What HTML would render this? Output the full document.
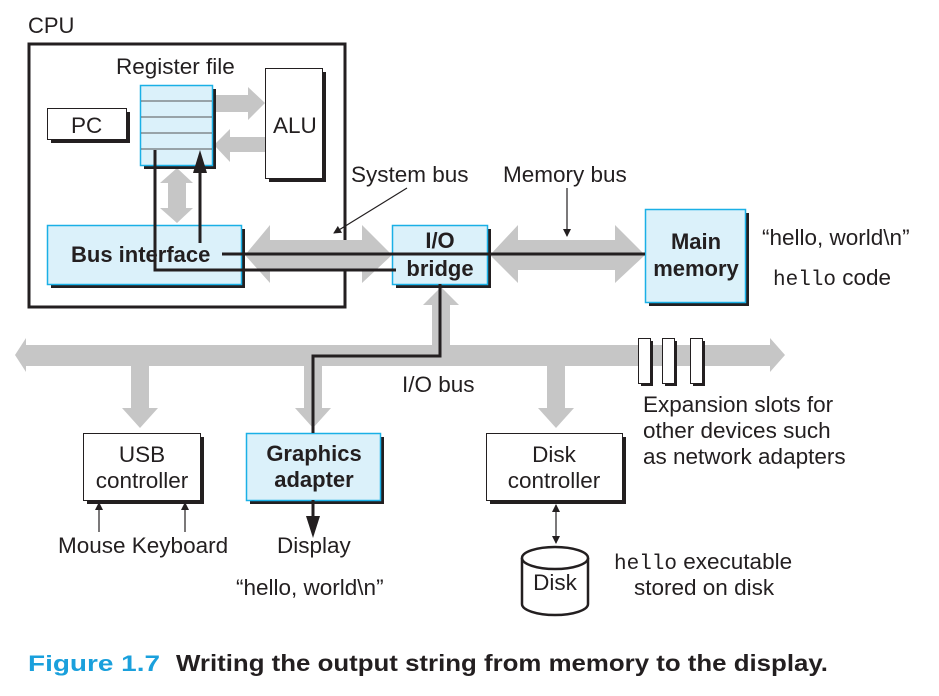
<!DOCTYPE html>
<html><head><meta charset="utf-8"><style>
html,body{margin:0;padding:0;background:#fff;}
svg{display:block;font-family:"Liberation Sans",sans-serif;}
</style></head><body>
<svg width="939" height="696" viewBox="0 0 939 696" xmlns="http://www.w3.org/2000/svg">
<defs>
<marker id="ah" markerWidth="8" markerHeight="8" refX="7" refY="4" orient="auto" markerUnits="userSpaceOnUse"><path d="M0,0 L8,4 L0,8 z" fill="#231f20"/></marker>
<marker id="ahs" markerWidth="8" markerHeight="8" refX="7" refY="4" orient="auto-start-reverse" markerUnits="userSpaceOnUse"><path d="M0,0 L8,4 L0,8 z" fill="#231f20"/></marker>
</defs>
<g fill="#231f20" font-size="22">
<text x="28" y="33">CPU</text>
</g>
<rect x="29" y="44" width="316" height="263" fill="none" stroke="#231f20" stroke-width="3"/>

<!-- gray arrows -->
<g fill="#c6c6c6">
<polygon points="215,95 248,95 248,87 265,103 248,120 248,112 215,112"/>
<polygon points="265,137 230,137 230,129 214,145 230,162 230,152 265,152"/>
<polygon points="177,168 193,183 186,183 186,208 193,208 177,223 160,208 168,208 168,183 160,183"/>
<polygon points="245,255 270,225 270,240 362,240 362,225 392,255 362,283 362,270 270,270 270,283"/>
<polygon points="490,255 518,225 518,240 615,240 615,225 645,255 615,283 615,270 518,270 518,283"/>
<polygon points="15,355 26,338 26,345 770,345 770,338 785,355 770,372 770,366 26,366 26,372"/>
<polygon points="432,366 432,305 423,305 441,287 459,305 450,305 450,345"/>
<polygon points="131,366 149,366 149,408 158,408 140,428 122,408 131,408"/>
<polygon points="304,366 322,366 322,408 331,408 313,428 295,408 304,408"/>
<polygon points="547,366 565,366 565,408 574,408 556,428 538,408 547,408"/>
</g>

<g fill="#231f20">
<rect x="51" y="112" width="79" height="31"/>
<rect x="144" y="89" width="72" height="80"/>
<rect x="269" y="72" width="57" height="110"/>
<rect x="51" y="229" width="194" height="59"/>
<rect x="396" y="229" width="95" height="59"/>
<rect x="649" y="213" width="100" height="93"/>
<rect x="87" y="437" width="117" height="67"/>
<rect x="250" y="437" width="134" height="67"/>
<rect x="490" y="437" width="136" height="67"/>
<rect x="641" y="341" width="12" height="45"/>
<rect x="665" y="341" width="12" height="45"/>
<rect x="693" y="341" width="12" height="45"/>
</g>
<g stroke="#231f20" stroke-width="1" fill="#fff">
<rect x="47.5" y="108.5" width="79" height="31"/>
<rect x="265.5" y="68.5" width="57" height="110"/>
<rect x="83.5" y="433.5" width="117" height="67"/>
<rect x="486.5" y="433.5" width="136" height="67"/>
<rect x="638.5" y="338.5" width="12" height="45"/>
<rect x="662.5" y="338.5" width="12" height="45"/>
<rect x="690.5" y="338.5" width="12" height="45"/>
</g>
<g stroke="#1ab0e6" stroke-width="1.5" fill="#dbf1fa">
<rect x="140.5" y="85.5" width="72" height="80"/>
<rect x="47.5" y="225.5" width="194" height="59"/>
<rect x="392.5" y="225.5" width="95" height="59"/>
<rect x="645.5" y="209.5" width="100" height="93"/>
<rect x="246.5" y="433.5" width="134" height="67"/>
</g>
<g stroke="#555" stroke-width="1">
<line x1="141" y1="101" x2="212" y2="101"/>
<line x1="141" y1="117" x2="212" y2="117"/>
<line x1="141" y1="133" x2="212" y2="133"/>
<line x1="141" y1="149" x2="212" y2="149"/>
</g>

<g stroke="#231f20" stroke-width="3" fill="none">
<polyline points="155,150 155,270 396,270"/>
<line x1="200" y1="243" x2="200" y2="172"/>
<line x1="222" y1="254" x2="645" y2="254"/>
<polyline points="440,284 440,356 313,356 313,433"/>
<line x1="313" y1="500" x2="313" y2="518"/>
</g>
<polygon points="193,173 200,150 207,173" fill="#231f20"/>
<polygon points="306,516 313,538 320,516" fill="#231f20"/>

<g stroke="#231f20" stroke-width="1.2" fill="none">
<line x1="407" y1="188" x2="334" y2="233" marker-end="url(#ah)"/>
<line x1="567" y1="188" x2="567" y2="236" marker-end="url(#ah)"/>
<line x1="99" y1="532" x2="99" y2="503" marker-end="url(#ah)"/>
<line x1="185" y1="532" x2="185" y2="503" marker-end="url(#ah)"/>
<line x1="556" y1="505" x2="556" y2="543" marker-start="url(#ahs)" marker-end="url(#ah)"/>
</g>

<g stroke="#231f20" stroke-width="2.5" fill="#fff">
<path d="M522,558 L522,604 A33,11 0 0 0 588,604 L588,558"/>
<ellipse cx="555" cy="558" rx="33" ry="11"/>
</g>

<g fill="#231f20" font-size="22.5">
<text x="116" y="74">Register file</text>
<text x="71" y="133">PC</text>
<text x="273" y="133">ALU</text>
<text x="351" y="182">System bus</text>
<text x="503" y="182">Memory bus</text>
<text x="762" y="245">“hello, world\n”</text>
<text x="773" y="285"><tspan font-family="Liberation Mono,monospace" font-size="21">hello</tspan> code</text>
<text x="402" y="392">I/O bus</text>
<text x="643" y="412">Expansion slots for</text>
<text x="643" y="438">other devices such</text>
<text x="643" y="464">as network adapters</text>
<text x="142" y="462" text-anchor="middle">USB</text>
<text x="142" y="488" text-anchor="middle">controller</text>
<text x="554" y="462" text-anchor="middle">Disk</text>
<text x="554" y="488" text-anchor="middle">controller</text>
<text x="58" y="553">Mouse Keyboard</text>
<text x="277" y="553">Display</text>
<text x="236" y="595">“hello, world\n”</text>
<text x="555" y="590" text-anchor="middle">Disk</text>
<text x="614" y="569"><tspan font-family="Liberation Mono,monospace" font-size="21">hello</tspan> executable</text>
<text x="634" y="595">stored on disk</text>
</g>
<g fill="#231f20" font-size="22" font-weight="bold">
<text x="71" y="262">Bus interface</text>
<text x="440" y="248" text-anchor="middle">I/O</text>
<text x="440" y="276" text-anchor="middle">bridge</text>
<text x="696" y="249" text-anchor="middle">Main</text>
<text x="696" y="276" text-anchor="middle">memory</text>
<text x="314" y="461" text-anchor="middle">Graphics</text>
<text x="314" y="487" text-anchor="middle">adapter</text>
</g>
<text x="28" y="671" font-size="22" font-weight="bold" fill="#1aa0dc" textLength="132" lengthAdjust="spacingAndGlyphs">Figure 1.7</text>
<text x="176" y="671" font-size="23" font-weight="bold" fill="#231f20" textLength="652" lengthAdjust="spacingAndGlyphs">Writing the output string from memory to the display.</text>
</svg>
</body></html>
